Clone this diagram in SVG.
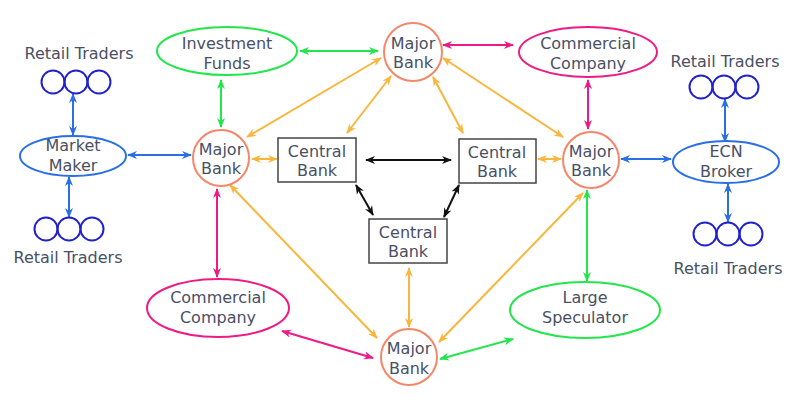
<svg xmlns="http://www.w3.org/2000/svg" width="800" height="403" viewBox="0 0 800 403">
<style>
text{font-family:"DejaVu Sans",Verdana,sans-serif;font-size:16px;fill:#4a5064;text-anchor:middle}
.mb{fill:#fff;stroke:#f4876a;stroke-width:2}
.cb{fill:#fff;stroke:#444;stroke-width:1.5}
.gr{fill:#fff;stroke:#22e64c;stroke-width:2}
.pk{fill:#fff;stroke:#ee1b84;stroke-width:2}
.bl{fill:#fff;stroke:#2a6fe6;stroke-width:2}
.rt{fill:none;stroke:#2222cc;stroke-width:2}
.c line{stroke-width:2;fill:none}
.o{stroke:#f9b63c;marker-start:url(#ao);marker-end:url(#ao)}
.p{stroke:#ee1b84;marker-start:url(#ap);marker-end:url(#ap)}
.g{stroke:#22e64c;marker-start:url(#ag);marker-end:url(#ag)}
.b{stroke:#2a6fe6;marker-start:url(#ab);marker-end:url(#ab)}
.k{stroke:#111;marker-start:url(#ak);marker-end:url(#ak)}
</style>
<defs>
<marker id="ao" viewBox="0 0 10 10" refX="9" refY="5" markerWidth="10" markerHeight="10" markerUnits="userSpaceOnUse" orient="auto-start-reverse"><path d="M0,1 L10,5 L0,9 L3,5 z" fill="#f9b63c"/></marker>
<marker id="ap" viewBox="0 0 10 10" refX="9" refY="5" markerWidth="10" markerHeight="10" markerUnits="userSpaceOnUse" orient="auto-start-reverse"><path d="M0,1 L10,5 L0,9 L3,5 z" fill="#ee1b84"/></marker>
<marker id="ag" viewBox="0 0 10 10" refX="9" refY="5" markerWidth="10" markerHeight="10" markerUnits="userSpaceOnUse" orient="auto-start-reverse"><path d="M0,1 L10,5 L0,9 L3,5 z" fill="#22e64c"/></marker>
<marker id="ab" viewBox="0 0 10 10" refX="9" refY="5" markerWidth="10" markerHeight="10" markerUnits="userSpaceOnUse" orient="auto-start-reverse"><path d="M0,1 L10,5 L0,9 L3,5 z" fill="#2a6fe6"/></marker>
<marker id="ak" viewBox="0 0 10 10" refX="9" refY="5" markerWidth="10" markerHeight="10" markerUnits="userSpaceOnUse" orient="auto-start-reverse"><path d="M0,1 L10,5 L0,9 L3,5 z" fill="#111"/></marker>
</defs>
<rect width="800" height="403" fill="#fff"/>

<g class="c" id="connectors">
<line class="b" x1="73" y1="94" x2="73" y2="135"/>
<line class="b" x1="69" y1="177" x2="69" y2="217"/>
<line class="b" x1="128" y1="155" x2="191" y2="155"/>
<line class="b" x1="621" y1="159" x2="671" y2="159"/>
<line class="b" x1="725" y1="99" x2="725" y2="142"/>
<line class="b" x1="728" y1="184" x2="728" y2="222"/>
<line class="g" x1="300" y1="51" x2="378" y2="51"/>
<line class="g" x1="221" y1="80" x2="221" y2="127"/>
<line class="g" x1="587" y1="190" x2="587" y2="281"/>
<line class="g" x1="440" y1="359" x2="513" y2="339"/>
<line class="p" x1="443" y1="45" x2="513" y2="45"/>
<line class="p" x1="588" y1="80" x2="588" y2="129"/>
<line class="p" x1="217" y1="189" x2="217" y2="277"/>
<line class="p" x1="282" y1="331" x2="373" y2="358"/>
<line class="o" x1="381" y1="58" x2="247" y2="137"/>
<line class="o" x1="391" y1="76" x2="347" y2="133"/>
<line class="o" x1="433" y1="77" x2="463" y2="133"/>
<line class="o" x1="443" y1="58" x2="563" y2="137"/>
<line class="o" x1="252" y1="159" x2="277" y2="159"/>
<line class="o" x1="538" y1="159" x2="561" y2="159"/>
<line class="o" x1="230" y1="185" x2="377" y2="338"/>
<line class="o" x1="583" y1="193" x2="439" y2="342"/>
<line class="o" x1="409" y1="268" x2="409" y2="327"/>
<line class="k" x1="366" y1="160" x2="451" y2="160"/>
<line class="k" x1="356" y1="185" x2="373" y2="215"/>
<line class="k" x1="459" y1="185" x2="444" y2="217"/>
</g>

<g id="retail-tl">
<text x="79" y="59">Retail Traders</text>
<circle class="rt" cx="53" cy="82" r="11.5"/><circle class="rt" cx="76" cy="82" r="11.5"/><circle class="rt" cx="99" cy="82" r="11.5"/>
</g>
<g id="market-maker">
<ellipse class="bl" cx="73" cy="156" rx="53" ry="20"/>
<text x="73" y="151">Market</text><text x="73" y="171">Maker</text>
</g>
<g id="retail-bl">
<circle class="rt" cx="46" cy="229" r="11.5"/><circle class="rt" cx="69" cy="229" r="11.5"/><circle class="rt" cx="92" cy="229" r="11.5"/>
<text x="68" y="263">Retail Traders</text>
</g>
<g id="investment-funds">
<ellipse class="gr" cx="227" cy="51" rx="70" ry="24"/>
<text x="227" y="49">Investment</text><text x="227" y="69">Funds</text>
</g>
<g id="major-bank-top">
<circle class="mb" cx="413" cy="52" r="29"/>
<text x="413" y="49">Major</text><text x="413" y="68">Bank</text>
</g>
<g id="commercial-top">
<ellipse class="pk" cx="588" cy="52" rx="69" ry="25"/>
<text x="588" y="49">Commercial</text><text x="588" y="69">Company</text>
</g>
<g id="retail-tr">
<text x="725" y="67">Retail Traders</text>
<circle class="rt" cx="701" cy="87" r="11.5"/><circle class="rt" cx="724" cy="87" r="11.5"/><circle class="rt" cx="747" cy="87" r="11.5"/>
</g>
<g id="major-bank-left">
<circle class="mb" cx="221" cy="158" r="28"/>
<text x="221" y="155">Major</text><text x="221" y="174">Bank</text>
</g>
<g id="central-left">
<rect class="cb" x="278" y="138" width="78" height="44"/>
<text x="317" y="157">Central</text><text x="317" y="176">Bank</text>
</g>
<g id="central-right">
<rect class="cb" x="459" y="139" width="77" height="44"/>
<text x="497" y="158">Central</text><text x="497" y="177">Bank</text>
</g>
<g id="major-bank-right">
<circle class="mb" cx="591" cy="160" r="28"/>
<text x="591" y="157">Major</text><text x="591" y="176">Bank</text>
</g>
<g id="ecn-broker">
<ellipse class="bl" cx="726" cy="162" rx="53" ry="21"/>
<text x="726" y="157">ECN</text><text x="726" y="177">Broker</text>
</g>
<g id="retail-br">
<circle class="rt" cx="705" cy="234" r="11.5"/><circle class="rt" cx="728" cy="234" r="11.5"/><circle class="rt" cx="751" cy="234" r="11.5"/>
<text x="728" y="274">Retail Traders</text>
</g>
<g id="central-bottom">
<rect class="cb" x="369" y="219" width="78" height="44"/>
<text x="408" y="238">Central</text><text x="408" y="257">Bank</text>
</g>
<g id="commercial-bottom">
<ellipse class="pk" cx="218" cy="308" rx="71" ry="29"/>
<text x="218" y="303">Commercial</text><text x="218" y="323">Company</text>
</g>
<g id="large-speculator">
<ellipse class="gr" cx="585" cy="310" rx="75" ry="28"/>
<text x="585" y="303">Large</text><text x="585" y="323">Speculator</text>
</g>
<g id="major-bank-bottom">
<circle class="mb" cx="409" cy="357" r="28"/>
<text x="409" y="354">Major</text><text x="409" y="374">Bank</text>
</g>
</svg>
